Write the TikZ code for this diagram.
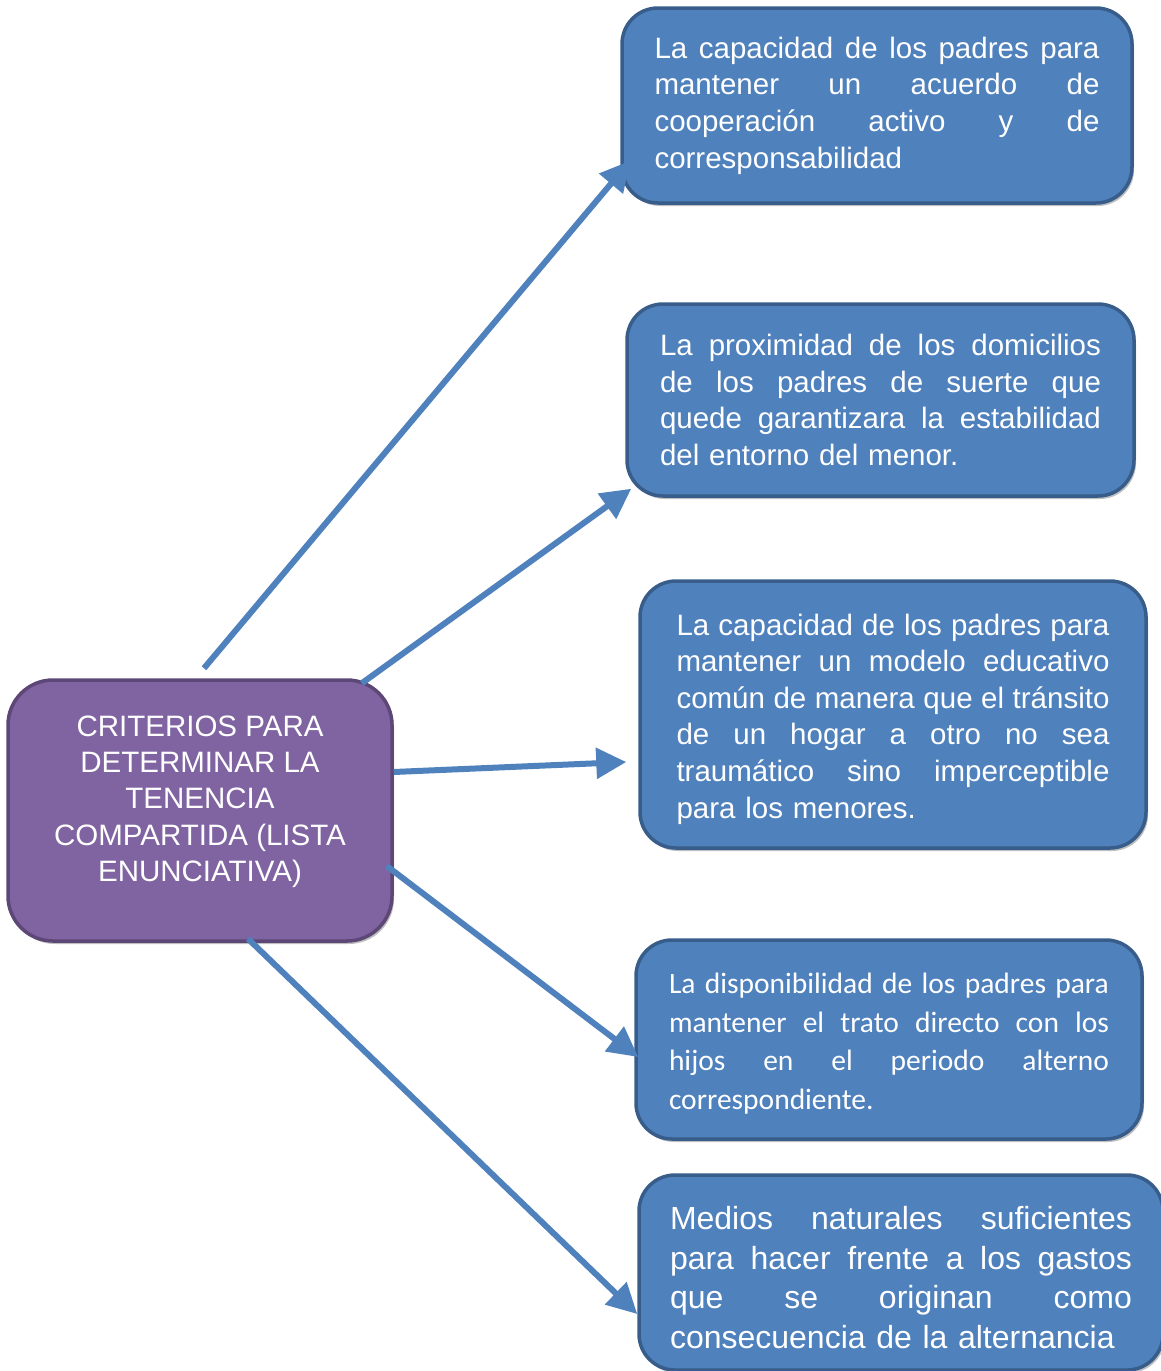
\documentclass[tikz,border=0pt]{standalone}
\usepackage{fontspec}
\setmainfont{Liberation Sans}
\newfontfamily\calibrifont{Carlito}
\usetikzlibrary{arrows.meta,calc,shadows}
\definecolor{boxblue}{HTML}{4F81BD}
\definecolor{boxedge}{HTML}{385D8A}
\definecolor{purp}{HTML}{8064A2}
\definecolor{purpedge}{HTML}{5C4776}
\newcommand\J[2]{\leavevmode\hbox to #1{\spaceskip=\fontdimen2\font plus 1fil\relax #2}}
\begin{document}
\begin{tikzpicture}[x=1pt,y=-1pt,
  boxshadow/.style={drop shadow={shadow xshift=2pt,shadow yshift=-3pt,opacity=0.25,fill=black}},
  bluebox/.style={draw=boxedge, fill=boxblue, line width=3.5pt, rounded corners=36pt,
    text=white, align=left, inner sep=0pt, boxshadow,
    font=\fontsize{29.5pt}{36.6pt}\selectfont},
  purplebox/.style={draw=purpedge, fill=purp, line width=3.5pt, rounded corners=45pt,
    inner sep=0pt, boxshadow},
  centertext/.style={text=white, align=center, inner sep=0pt,
    font=\fontsize{29.5pt}{36.3pt}\selectfont},
  conn/.style={draw=boxblue, line width=6pt, -{Triangle[length=30pt,width=30pt]}}]
\useasboundingbox (0,0) rectangle (1161,1371);

\node[purplebox, minimum width=384pt, minimum height=261pt] (c) at (200,810.5) {};
\node[centertext] (ct) at (200,801.5) {CRITERIOS PARA\\DETERMINAR LA\\TENENCIA\\COMPARTIDA (LISTA\\ENUNCIATIVA)};

\node[bluebox, minimum width=510pt, minimum height=195pt, text width=445pt] (b1) at (877,105.5)
 {\J{445pt}{La capacidad de los padres para}\\
  \J{445pt}{mantener un acuerdo de}\\
  \J{445pt}{cooperación activo y de}\\
  corresponsabilidad};

\node[bluebox, minimum width=507pt, minimum height=192pt, text width=441pt] (b2) at (880.5,400)
 {\J{441pt}{La proximidad de los domicilios}\\
  \J{441pt}{de los padres de suerte que}\\
  \J{441pt}{quede garantizara la estabilidad}\\
  del entorno del menor.};

\node[bluebox, minimum width=506pt, minimum height=267pt, text width=433pt] (b3) at (893,714.5)
 {\J{433pt}{\rule{0pt}{30.5pt}La capacidad de los padres para}\\
  \J{433pt}{mantener un modelo educativo}\\
  \J{433pt}{común de manera que el tránsito}\\
  \J{433pt}{de un hogar a otro no sea}\\
  \J{433pt}{traumático sino imperceptible}\\
  para los menores.};

\node[bluebox, minimum width=506pt, minimum height=199pt, text width=440pt,
  font=\calibrifont\fontsize{29.5pt}{38.7pt}\selectfont] (b4) at (889,1039.5)
 {\J{440pt}{\rule{0pt}{29pt}La disponibilidad de los padres para}\\
  \J{440pt}{mantener el trato directo con los}\\
  \J{440pt}{hijos en el periodo alterno}\\
  correspondiente.};

\node[bluebox, minimum width=524pt, minimum height=195pt, text width=462pt,
  font=\fontsize{32pt}{39.7pt}\selectfont] (b5) at (901,1272.5)
 {\J{462pt}{\rule{0pt}{33.4pt}Medios naturales suficientes}\\
  \J{462pt}{para hacer frente a los gastos}\\
  \J{462pt}{que se originan como}\\
  consecuencia de la alternancia};

\draw[conn] ($(c.north)+(4,-10)$) -- ($(b1.south west)+(10,-44)$);
\draw[conn] ($(c.north east)+(-32,5)$) -- ($(b2.south west)+(6,-9)$);
\draw[conn] ($(c.east)+(0,-38.5)$) -- ($(b3.west)+(-12,47.5)$);
\draw[conn] ($(c.east)+(-7,55.5)$) -- ($(b4.west)+(4,17.5)$);
\draw[conn] ($(c.south)+(48,-4)$) -- ($(b5.west)+(0,41.5)$);
\end{tikzpicture}
\end{document}
